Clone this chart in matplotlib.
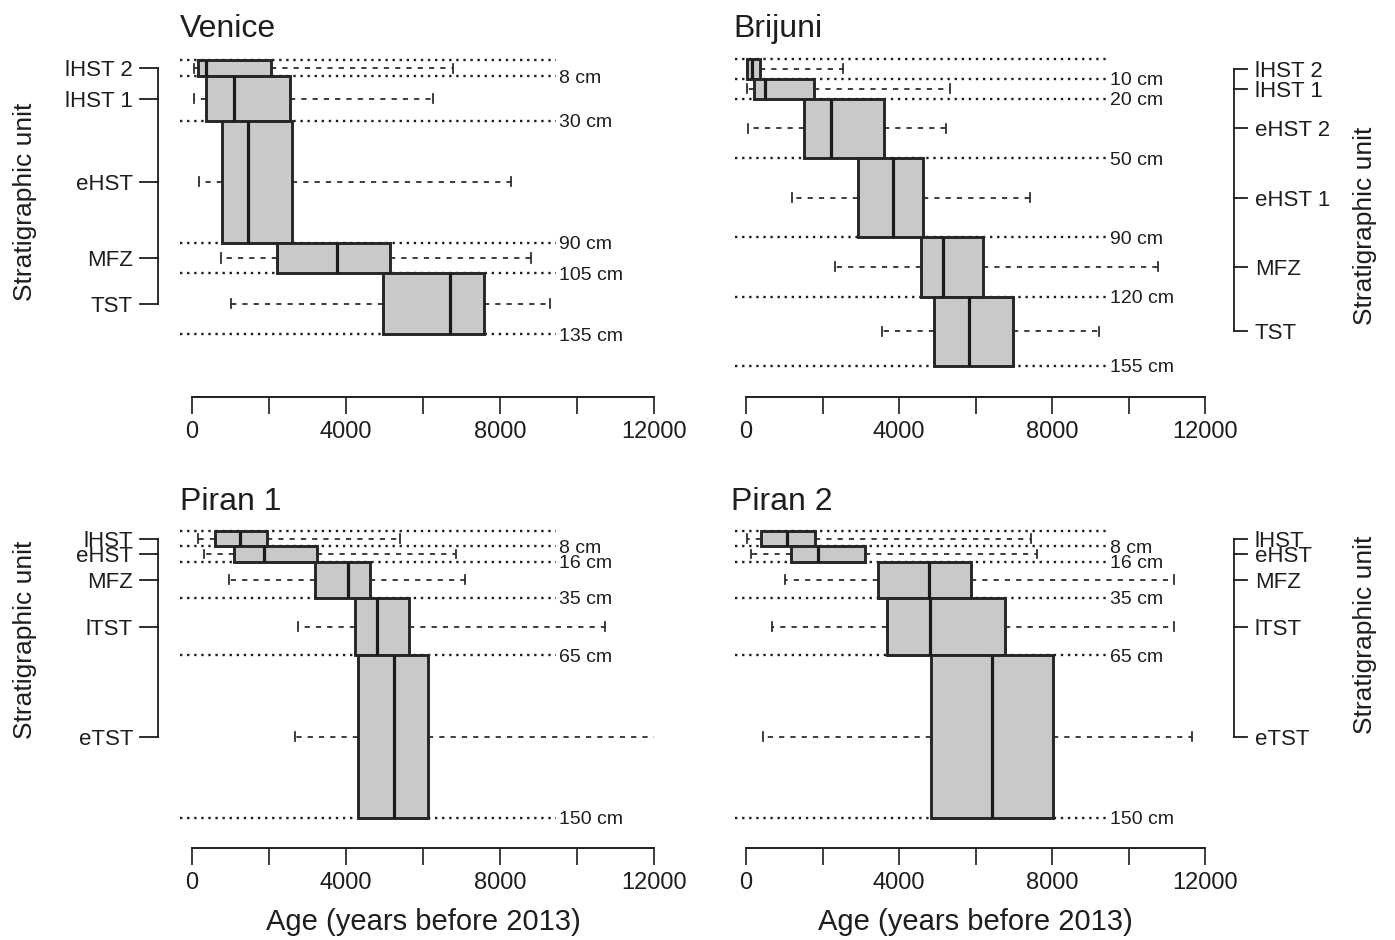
import matplotlib
matplotlib.use("Agg")
import matplotlib.pyplot as plt

plt.rcParams['font.family'] = ['Liberation Sans', 'DejaVu Sans']

# ---- data: depth boundaries (cm) and age summaries (years before 2013) ----
venice_depths = [0, 8, 30, 90, 105, 135]
venice_units = ['lHST 2', 'lHST 1', 'eHST', 'MFZ', 'TST']
venice_min = [40, 60, 182, 753, 1013]
venice_q1 = [150, 364, 779, 2208, 4960]
venice_med = [364, 1090, 1454, 3766, 6700]
venice_q3 = [2050, 2545, 2597, 5142, 7580]
venice_max = [6780, 6260, 8280, 8800, 9300]

brijuni_depths = [0, 10, 20, 50, 90, 120, 155]
brijuni_units = ['lHST 2', 'lHST 1', 'eHST 2', 'eHST 1', 'MFZ', 'TST']
brijuni_min = [10, 39, 52, 1202, 2326, 3568]
brijuni_q1 = [30, 209, 1516, 2928, 4587, 4914]
brijuni_med = [160, 497, 2222, 3843, 5139, 5830]
brijuni_q3 = [366, 1778, 3607, 4627, 6195, 6980]
brijuni_max = [2535, 5330, 5230, 7424, 10770, 9227]

piran1_depths = [0, 8, 16, 35, 65, 150]
piran1_units = ['lHST', 'eHST', 'MFZ', 'lTST', 'eTST']
piran1_min = [156, 312, 961, 2748, 2688]
piran1_q1 = [597, 1091, 3190, 4225, 4319]
piran1_med = [1247, 1870, 4051, 4797, 5246]
piran1_q3 = [1948, 3236, 4633, 5636, 6130]
piran1_max = [5412, 6870, 7090, 10726, 12300]

piran2_depths = [0, 8, 16, 35, 65, 150]
piran2_units = ['lHST', 'eHST', 'MFZ', 'lTST', 'eTST']
piran2_min = [39, 123, 1014, 680, 439]
piran2_q1 = [403, 1176, 3440, 3696, 4830]
piran2_med = [1082, 1892, 4784, 4823, 6430]
piran2_q3 = [1798, 3124, 5889, 6781, 8030]
piran2_max = [7450, 7607, 11188, 11188, 11650]

W, H = 1395, 940
INK = '#1e1e1e'
fig = plt.figure(figsize=(W / 100, H / 100), dpi=100)


def px_axes(x0, x1, y0, y1):
    return fig.add_axes([x0 / W, 1 - y1 / H, (x1 - x0) / W, (y1 - y0) / H])


def panel(ax, depths, units, lo, q1, med, q3, hi, ylim, side):
    ax.set_xlim(0, 12000)
    ax.set_ylim(*ylim)
    for s in ['top', 'left', 'right']:
        ax.spines[s].set_visible(False)
    ax.spines['bottom'].set_bounds(0, 12000)
    ax.spines['bottom'].set_linewidth(1.4)
    ax.spines['bottom'].set_color(INK)
    ax.set_xticks(range(0, 12001, 2000))
    ax.set_xticklabels([str(v) if v % 4000 == 0 else '' for v in range(0, 12001, 2000)])
    ax.tick_params(axis='x', length=12.5, width=1.2, pad=5, labelsize=17,
                   color=INK, labelcolor=INK)
    ax.set_yticks([])
    ax.patch.set_visible(False)

    # depth boundaries
    ax.hlines(depths, -300, 9450, colors=INK, linestyles=(0, (1, 2)),
              lw=1.7, zorder=1, clip_on=False)
    for d in depths[1:]:
        ax.text(9520, d, f'{d} cm', ha='left', va='center_baseline', fontsize=14,
                color=INK, clip_on=False)

    tops = depths[:-1]
    bots = depths[1:]
    mids = [(a + b) / 2 for a, b in zip(tops, bots)]
    widths = [b - a for a, b in zip(tops, bots)]
    stats = [dict(whislo=a, q1=b, med=c, q3=d, whishi=e, fliers=[])
             for a, b, c, d, e in zip(lo, q1, med, q3, hi)]
    ax.bxp(stats, positions=mids, widths=widths, orientation='horizontal',
           patch_artist=True, manage_ticks=False, showfliers=False,
           capwidths=[4.5] * len(stats),
           boxprops=dict(facecolor='#c8c9cb', edgecolor='#262626', lw=2.1),
           medianprops=dict(color='#1a1a1a', lw=2.3),
           whiskerprops=dict(color='#262626', lw=1.25, linestyle=(0, (3, 3.5))),
           capprops=dict(color='#262626', lw=1.25),
           zorder=3)

    # stratigraphic unit bracket
    if side == 'left':
        xb, xt, xl, ha = -883, -1350, -1530, 'right'
    else:
        xb, xt, xl, ha = 12757, 13097, 13306, 'left'
    ax.plot([xb, xb], [mids[0], mids[-1]], color=INK, lw=1.3, clip_on=False)
    for m, u in zip(mids, units):
        ax.plot([xt, xb], [m, m], color=INK, lw=1.3, clip_on=False)
        ax.text(xl, m, u, ha=ha, va='center_baseline', fontsize=16, color=INK,
                clip_on=False)


ax1 = px_axes(192, 654, 40, 397)
panel(ax1, venice_depths, venice_units, venice_min, venice_q1,
      venice_med, venice_q3, venice_max, (166.0, -9.85), 'left')
ax2 = px_axes(746, 1205, 40, 397)
panel(ax2, brijuni_depths, brijuni_units, brijuni_min, brijuni_q1,
      brijuni_med, brijuni_q3, brijuni_max, (170.7, -9.6), 'right')
ax3 = px_axes(192, 654, 505, 848)
panel(ax3, piran1_depths, piran1_units, piran1_min, piran1_q1,
      piran1_med, piran1_q3, piran1_max, (165.7, -13.6), 'left')
ax4 = px_axes(746, 1205, 505, 848)
panel(ax4, piran2_depths, piran2_units, piran2_min, piran2_q1,
      piran2_med, piran2_q3, piran2_max, (165.7, -13.6), 'right')


def ftext(x, y, s, **kw):
    fig.text(x / W, 1 - y / H, s, color=INK, **kw)


# panel titles
ftext(180, 37, 'Venice', fontsize=23, va='baseline')
ftext(733, 37, 'Brijuni', fontsize=23, va='baseline')
ftext(180, 510, 'Piran 1', fontsize=23, va='baseline')
ftext(731, 510, 'Piran 2', fontsize=23, va='baseline')

# axis titles
ftext(423, 930, 'Age (years before 2013)', fontsize=21, ha='center', va='baseline')
ftext(975, 930, 'Age (years before 2013)', fontsize=21, ha='center', va='baseline')
ftext(25, 202, 'Stratigraphic unit', fontsize=19, rotation=90, ha='center', va='center')
ftext(25, 640, 'Stratigraphic unit', fontsize=19, rotation=90, ha='center', va='center')
ftext(1365, 226, 'Stratigraphic unit', fontsize=19, rotation=90, ha='center', va='center')
ftext(1365, 635, 'Stratigraphic unit', fontsize=19, rotation=90, ha='center', va='center')

fig.savefig('out.png', dpi=100, facecolor='white')
